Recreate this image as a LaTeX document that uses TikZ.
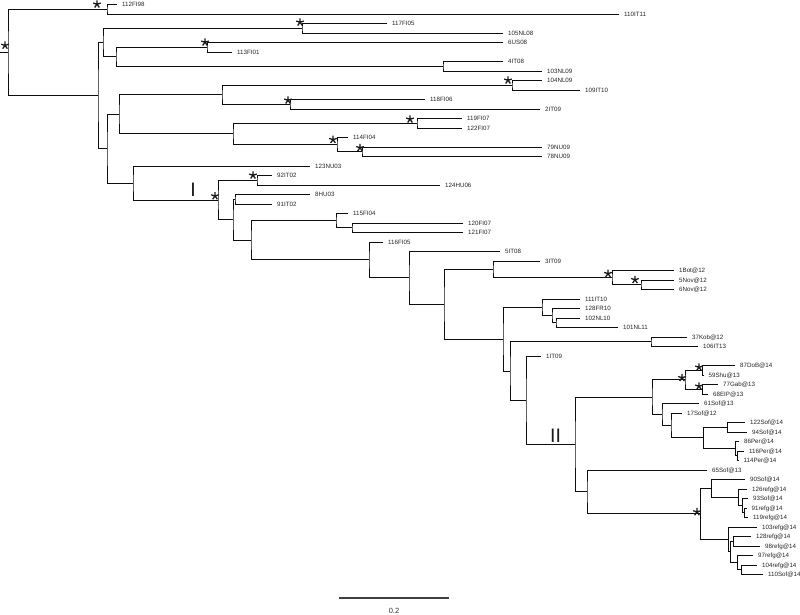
\documentclass[tikz,border=0pt]{standalone}
\usepackage{fontspec}
\setmainfont{Liberation Sans}
\usetikzlibrary{calc}
\tikzset{
  br/.style={line width=1pt, draw=black!95},
  lab/.style={anchor=west, inner sep=0pt, xshift=5pt, text height=4.4pt, text depth=0pt,
    font=\fontsize{6.2}{7}\selectfont, text=black!85},
  roman/.style={anchor=base, inner sep=0pt, font=\fontsize{19.5}{20}\selectfont, text=black!90},
  ast/.pic={\draw[line width=1.3pt, draw=black!90] (0,0) -- (-90:4) (0,0) -- (-18:4) (0,0) -- (-162:4) (0,0) -- (54:4) (0,0) -- (126:4);}
}
\newcommand\tip[3]{\coordinate (t#1) at (#2,{4.5+(#1-1)*9.5}); \node[lab] (l#1) at (t#1) {#3};}
\newcommand\inode[4]{\path let \p1=($(#3)!0.5!(#4)$) in coordinate (#1) at (#2pt,\y1);
  \draw[br] (#3) -| (#1) |- (#4);}
\begin{document}
\begin{tikzpicture}[x=1pt,y=-1pt]
\fill[white] (0,0) rectangle (800,614);
\useasboundingbox (0,0) rectangle (800,614);
\tip{1}{117}{112FI98}
\tip{2}{619}{110IT11}
\tip{3}{387}{117FI05}
\tip{4}{503}{105NL08}
\tip{5}{503}{6US08}
\tip{6}{232}{113FI01}
\tip{7}{503}{4IT08}
\tip{8}{542}{103NL09}
\tip{9}{542}{104NL09}
\tip{10}{580}{109IT10}
\tip{11}{425}{118FI06}
\tip{12}{540}{2IT09}
\tip{13}{462}{119FI07}
\tip{14}{462}{122FI07}
\tip{15}{348}{114FI04}
\tip{16}{542}{79NU09}
\tip{17}{542}{78NU09}
\tip{18}{310}{123NU03}
\tip{19}{272}{92IT02}
\tip{20}{440}{124HU06}
\tip{21}{310}{8HU03}
\tip{22}{272}{91IT02}
\tip{23}{348}{115FI04}
\tip{24}{463}{120FI07}
\tip{25}{463}{121FI07}
\tip{26}{383}{116FI05}
\tip{27}{500}{5IT08}
\tip{28}{540}{3IT09}
\tip{29}{674}{1Bot@12}
\tip{30}{674}{5Nov@12}
\tip{31}{674}{6Nov@12}
\tip{32}{580}{111IT10}
\tip{33}{580}{128FR10}
\tip{34}{580}{102NL10}
\tip{35}{618}{101NL11}
\tip{36}{687}{37Kob@12}
\tip{37}{698}{106IT13}
\tip{38}{541}{1IT09}
\tip{39}{735}{87DoB@14}
\tip{40}{703.5}{59Shu@13}
\tip{41}{718}{77Gab@13}
\tip{42}{708}{68EIP@13}
\tip{43}{699}{61Sof@13}
\tip{44}{682}{17Sof@12}
\tip{45}{745}{122Sof@14}
\tip{46}{747}{94Sof@14}
\tip{47}{739}{86Per@14}
\tip{48}{744}{116Per@14}
\tip{49}{738.5}{114Per@14}
\tip{50}{707}{65Sof@13}
\tip{51}{745}{90Sof@14}
\tip{52}{747}{126refg@14}
\tip{53}{748}{93Sof@14}
\tip{54}{746.5}{91refg@14}
\tip{55}{748}{119refg@14}
\tip{56}{757}{103refg@14}
\tip{57}{751}{128refg@14}
\tip{58}{760}{98refg@14}
\tip{59}{753}{97refg@14}
\tip{60}{757}{104refg@14}
\tip{61}{763}{110Sof@14}
\inode{A}{107}{t1}{t2}
\inode{n3}{302}{t3}{t4}
\inode{F}{207}{t5}{t6}
\inode{n7}{443}{t7}{t8}
\inode{E}{116}{F}{n7}
\inode{C}{103}{n3}{E}
\inode{n9}{512}{t9}{t10}
\inode{n11}{290}{t11}{t12}
\inode{H}{222}{n9}{n11}
\inode{n13}{417}{t13}{t14}
\inode{n16}{362}{t16}{t17}
\inode{n15}{337}{t15}{n16}
\inode{I}{233}{n13}{n15}
\inode{G}{119}{H}{I}
\inode{n19}{257}{t19}{t20}
\inode{n21}{235}{t21}{t22}
\inode{n24}{352}{t24}{t25}
\inode{O}{336}{t23}{n24}
\inode{R}{641}{t30}{t31}
\inode{Q}{612}{t29}{R}
\inode{UU}{493}{t28}{Q}
\inode{U}{556}{t34}{t35}
\inode{T}{552}{t33}{U}
\inode{S}{542}{t32}{T}
\inode{n36}{651}{t36}{t37}
\inode{AA}{702}{t39}{t40}
\inode{BB}{702}{t41}{t42}
\inode{CC}{685}{AA}{BB}
\inode{n45}{727}{t45}{t46}
\inode{EE}{737}{t48}{t49}
\inode{DD}{735}{t47}{EE}
\inode{HH}{703}{n45}{DD}
\inode{GG}{671}{t44}{HH}
\inode{FF}{662}{t43}{GG}
\inode{Z}{652}{CC}{FF}
\inode{LL}{744}{t54}{t55}
\inode{KK}{742}{t53}{LL}
\inode{JJ}{738}{t52}{KK}
\inode{II}{711}{t51}{JJ}
\inode{QQ}{741}{t60}{t61}
\inode{PP}{737}{t59}{QQ}
\inode{OO}{733}{t57}{t58}
\inode{NN}{730}{OO}{PP}
\inode{MM}{728}{t56}{NN}
\inode{RR}{700}{II}{MM}
\inode{SS}{587}{t50}{RR}
\inode{Y}{575}{Z}{SS}
\inode{X}{526}{t38}{Y}
\inode{W}{510}{n36}{X}
\inode{V}{503}{S}{W}
\inode{TT}{444}{UU}{V}
\inode{VV}{409}{t27}{TT}
\inode{WW}{369}{t26}{VV}
\inode{XX}{251}{O}{WW}
\inode{M}{233}{n21}{XX}
\inode{L}{218}{n19}{M}
\inode{K}{133}{t18}{L}
\inode{J}{107}{G}{K}
\inode{B}{98}{C}{J}
\inode{root}{8}{A}{B}
\coordinate (rootstub) at ($(root)+(-8,0)$);
\draw[br] (rootstub) -- (root);
% support stars
\pic at ($(root)+(-3,-7)$) {ast};
\pic at ($(A)+(-10,-5)$) {ast};
\pic at ($(n3)+(-2,-6)$) {ast};
\pic at ($(F)+(-2,-5)$) {ast};
\pic at ($(n9)+(-4,-5)$) {ast};
\pic at ($(n11)+(-2,-4)$) {ast};
\pic at ($(n13)+(-7,-4)$) {ast};
\pic at ($(n15)+(-4,-5)$) {ast};
\pic at ($(n16)+(-2,-4)$) {ast};
\pic at ($(n19)+(-4,-5)$) {ast};
\pic at ($(L)+(-3,-4)$) {ast};
\pic at ($(Q)+(-4,-4)$) {ast};
\pic at ($(R)+(-6,-5)$) {ast};
\pic at ($(CC)+(-3,-2)$) {ast};
\pic at ($(AA)+(-3,-3)$) {ast};
\pic at ($(BB)+(-3,-3)$) {ast};
\pic at ($(RR)+(-3,-2)$) {ast};
% clade marks
\node[roman] (cladeI) at (193,196) {I};
\node[roman] (cladeII) at (555.5,442) {II};
% scale bar
\coordinate (sb1) at (339,598);
\coordinate (sb2) at (449,598);
\draw[line width=1.6pt, draw=black!75] (sb1) -- (sb2);
\node[anchor=base, inner sep=0pt, font=\fontsize{7.5}{8}\selectfont, text=black!80] (sblab) at (394,613) {0.2};
\end{tikzpicture}
\end{document}
